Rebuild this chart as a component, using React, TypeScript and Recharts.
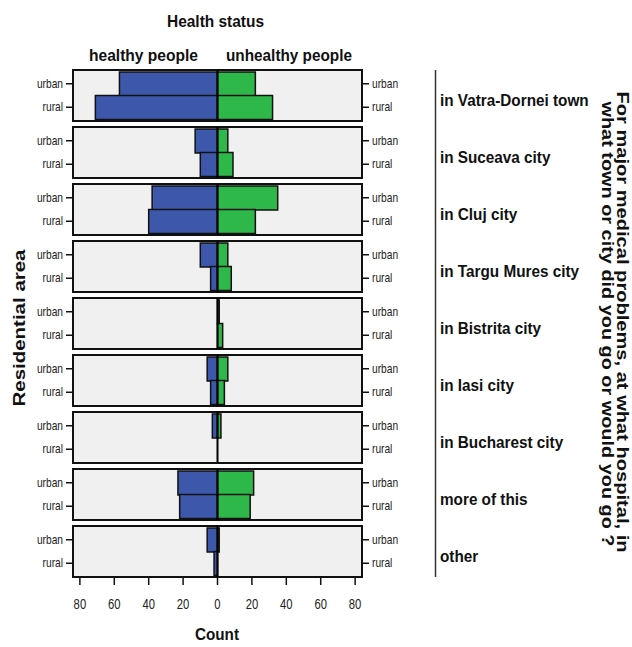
import React from "react";
import { BarChart, Bar, XAxis, YAxis, ReferenceArea, ReferenceLine } from "recharts";

// categories (one panel per destination city)
const CITIES = [
  "in Vatra-Dornei town",
  "in Suceava city",
  "in Cluj city",
  "in Targu Mures city",
  "in Bistrita city",
  "in Iasi city",
  "in Bucharest city",
  "more of this",
  "other",
];
const AREAS = ["urban", "rural"];

// counts, per city
const HEALTHY_URBAN = [57, 13, 38, 10, 0, 6, 3, 23, 6];
const HEALTHY_RURAL = [71, 10, 40, 4, 0, 4, 0, 22, 2];
const UNHEALTHY_URBAN = [22, 6, 35, 6, 1, 6, 2, 21, 1];
const UNHEALTHY_RURAL = [32, 9, 22, 8, 3, 4, 0, 19, 0];

const COUNT_TICKS = [-80, -60, -40, -20, 0, 20, 40, 60, 80];

const FONT = "'Liberation Sans', Arial, sans-serif";
const BLUE = "#3d58ab";
const GREEN = "#2fb84a";
const PANEL_BG = "#f0f0f0";

const PANEL_TOP = 70;
const PANEL_STEP = 57;
const PANEL_H = 51;
const CHART_W = 400;
const LEFT_W = 73;
const RIGHT_W = 38;
const XAXIS_H = 45;

const AreaTick = ({ x, y, payload, anchor }: any) => (
  <text
    transform={`translate(${x},${y}) scale(0.85,1)`}
    textAnchor={anchor}
    dy="0.35em"
    fontSize={12}
    fill="#222"
    fontFamily={FONT}
  >
    {payload.value}
  </text>
);

const CountTick = ({ x, y, payload }: any) => (
  <text
    transform={`translate(${x},${y}) scale(0.75,1)`}
    textAnchor="middle"
    dy="0.72em"
    fontSize={15}
    fill="#222"
    fontFamily={FONT}
  >
    {Math.abs(payload.value)}
  </text>
);

function Panel({ index }: { index: number }) {
  const last = index === CITIES.length - 1;
  const rows = [
    { area: AREAS[0], healthy: -HEALTHY_URBAN[index], unhealthy: UNHEALTHY_URBAN[index] },
    { area: AREAS[1], healthy: -HEALTHY_RURAL[index], unhealthy: UNHEALTHY_RURAL[index] },
  ];
  return (
    <div style={{ position: "absolute", left: 0, top: PANEL_TOP + index * PANEL_STEP - 1 }}>
      <BarChart
        width={CHART_W}
        height={PANEL_H + 2 + (last ? XAXIS_H : 0)}
        data={rows}
        layout="vertical"
        stackOffset="sign"
        barCategoryGap={0}
        margin={{ top: 1, right: 0, bottom: 1, left: 0 }}
      >
        <XAxis
          type="number"
          domain={[-84, 84]}
          ticks={COUNT_TICKS}
          hide={!last}
          height={XAXIS_H}
          axisLine={false}
          tickSize={8}
          tickMargin={13}
          tickLine={{ stroke: "#111", strokeWidth: 1.5 }}
          tick={<CountTick />}
          interval={0}
        />
        <YAxis
          yAxisId="left"
          type="category"
          dataKey="area"
          width={LEFT_W}
          padding={{ top: 2, bottom: 2 }}
          axisLine={false}
          tickSize={7}
          tickMargin={3}
          tickLine={{ stroke: "#111", strokeWidth: 1.5 }}
          tick={(p: any) => <AreaTick {...p} anchor="end" />}
        />
        <YAxis
          yAxisId="right"
          orientation="right"
          type="category"
          dataKey="area"
          width={RIGHT_W}
          padding={{ top: 2, bottom: 2 }}
          axisLine={false}
          tickSize={7}
          tickMargin={3}
          tickLine={{ stroke: "#111", strokeWidth: 1.5 }}
          tick={(p: any) => <AreaTick {...p} anchor="start" />}
        />
        {/* unpadded axis so the panel frame covers the whole plot height */}
        <YAxis yAxisId="frame" type="category" dataKey="area" width={0} hide />
        <ReferenceArea
          yAxisId="frame"
          x1={-84}
          x2={84}
          fill={PANEL_BG}
          fillOpacity={1}
          stroke="#111"
          strokeWidth={2}
        />
        <Bar
          yAxisId="left"
          dataKey="healthy"
          stackId="s"
          fill={BLUE}
          stroke="#111"
          strokeWidth={1.5}
          isAnimationActive={false}
        />
        <Bar
          yAxisId="left"
          dataKey="unhealthy"
          stackId="s"
          fill={GREEN}
          stroke="#111"
          strokeWidth={1.5}
          isAnimationActive={false}
        />
        <ReferenceLine yAxisId="frame" x={0} stroke="#000" strokeWidth={2} />
      </BarChart>
    </div>
  );
}

export default function App() {
  const lastBottom = PANEL_TOP + (CITIES.length - 1) * PANEL_STEP + PANEL_H;
  return (
    <div
      style={{
        position: "absolute",
        left: 0,
        top: 0,
        width: 632,
        height: 647,
        background: "#fff",
        fontFamily: FONT,
      }}
    >
      {CITIES.map((c, i) => (
        <Panel key={c} index={i} />
      ))}
      <svg
        width={632}
        height={647}
        style={{ position: "absolute", left: 0, top: 0, pointerEvents: "none" }}
        fontFamily={FONT}
        fontWeight="bold"
        fill="#111"
      >
        <text x={215.5} y={27} textAnchor="middle" fontSize={16} textLength={97} lengthAdjust="spacingAndGlyphs">
          Health status
        </text>
        <text x={143.5} y={61} textAnchor="middle" fontSize={17} textLength={109} lengthAdjust="spacingAndGlyphs">
          healthy people
        </text>
        <text x={289} y={61} textAnchor="middle" fontSize={17} textLength={126} lengthAdjust="spacingAndGlyphs">
          unhealthy people
        </text>
        <text x={217} y={640} textAnchor="middle" fontSize={16} textLength={44} lengthAdjust="spacingAndGlyphs">
          Count
        </text>
        <text
          transform="translate(25,328) rotate(-90)"
          textAnchor="middle"
          fontSize={16}
          textLength={157}
          lengthAdjust="spacingAndGlyphs"
        >
          Residential area
        </text>
        <line x1={435.5} x2={435.5} y1={PANEL_TOP} y2={lastBottom} stroke="#333" strokeWidth={1.5} />
        {CITIES.map((c, i) => (
          <text
            key={c}
            transform={`translate(440,${PANEL_TOP + i * PANEL_STEP + PANEL_H / 2 + 10}) scale(0.9,1)`}
            fontSize={17}
          >
            {c}
          </text>
        ))}
        <text
          transform="translate(617,322) rotate(90)"
          textAnchor="middle"
          fontSize={16}
          textLength={461}
          lengthAdjust="spacingAndGlyphs"
        >
          For major medical problems, at what hospital, in
        </text>
        <text
          transform="translate(602,324) rotate(90)"
          textAnchor="middle"
          fontSize={16}
          textLength={445}
          lengthAdjust="spacingAndGlyphs"
        >
          what town or city did you go or would you go ?
        </text>
      </svg>
    </div>
  );
}
